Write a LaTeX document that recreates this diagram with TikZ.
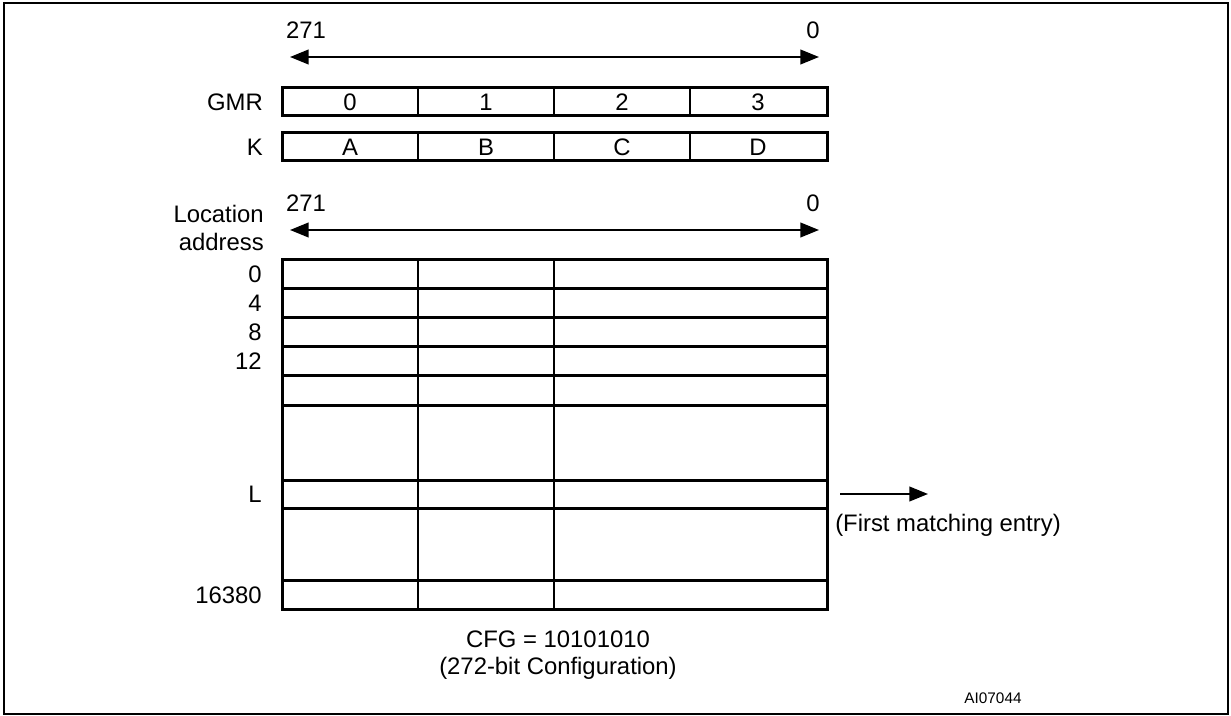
\documentclass[tikz,border=0pt]{standalone}
\usepackage{fontspec}
\setmainfont{Liberation Sans}
\usetikzlibrary{arrows.meta}

\begin{document}
\begin{tikzpicture}[x=0.75pt,y=-0.75pt,inner sep=0pt,
    font=\fontsize{17.9}{21}\selectfont,
    reg/.style={line width=2.25pt},
    sep/.style={line width=1.5pt},
    bits/.style={line width=1.5pt,{Triangle[length=14pt,width=11pt]}-{Triangle[length=14pt,width=11pt]}},
    hit/.style={line width=1.5pt,-{Triangle[length=14pt,width=11pt]}}]
\useasboundingbox (0,0) rectangle (1231,716);
\draw [line width=1.5pt] (4,3) rectangle (1228,714);

% bit range of the registers
\coordinate (msbA) at (290,57);
\coordinate (lsbA) at (819,57);
\draw [bits] (msbA) -- (lsbA);
\node (hiA) at (306,30) {271};
\node (loA) at (813,30) {0};

% GMR and K registers
\draw [reg] (282,88) rectangle (827,116);
\draw [reg] (282,133) rectangle (827,161);
\draw [sep] (418,88) -- (418,116);
\draw [sep] (554,88) -- (554,116);
\draw [sep] (690,88) -- (690,116);
\draw [sep] (418,133) -- (418,161);
\draw [sep] (554,133) -- (554,161);
\draw [sep] (690,133) -- (690,161);
\node [anchor=east] (gmr) at (263,102) {GMR};
\node [anchor=east] (key) at (263,147) {K};
\node (g0) at (350,102) {0};
\node (g1) at (486,102) {1};
\node (g2) at (622,102) {2};
\node (g3) at (758,102) {3};
\node (kA) at (350,147) {A};
\node (kB) at (486,147) {B};
\node (kC) at (622,147) {C};
\node (kD) at (758,147) {D};

% bit range of the entries
\coordinate (msbB) at (290,230);
\coordinate (lsbB) at (819,230);
\draw [bits] (msbB) -- (lsbB);
\node (hiB) at (306,203) {271};
\node (loB) at (813,203) {0};
\node [anchor=east,align=right] (loc) at (264,228) {Location\\address};

% entry table
\draw [reg] (282,260) rectangle (827,609);
\draw [reg] (282,289) -- (827,289);
\draw [reg] (282,318) -- (827,318);
\draw [reg] (282,347) -- (827,347);
\draw [reg] (282,376) -- (827,376);
\draw [reg] (282,405) -- (827,405);
\draw [reg] (282,480) -- (827,480);
\draw [reg] (282,508) -- (827,508);
\draw [reg] (282,580) -- (827,580);
\draw [sep] (418,260) -- (418,609);
\draw [sep] (554,260) -- (554,609);
\node [anchor=east] (a0) at (262,274) {0};
\node [anchor=east] (a4) at (262,303) {4};
\node [anchor=east] (a8) at (262,332) {8};
\node [anchor=east] (a12) at (262,361) {12};
\node [anchor=east] (aL) at (262,494) {L};
\node [anchor=east] (aEnd) at (262,595) {16380};

% first match
\coordinate (matchA) at (840,494);
\coordinate (matchB) at (928,494);
\draw [hit] (matchA) -- (matchB);
\node [anchor=west] (first) at (835,525) {(First matching entry)};

\node (cfg) at (558,639) {CFG = 10101010};
\node (cfgbits) at (558,668) {(272-bit Configuration)};
\node [font=\fontsize{11.5}{14}\selectfont] (fig) at (993,698) {AI07044};
\end{tikzpicture}
\end{document}
